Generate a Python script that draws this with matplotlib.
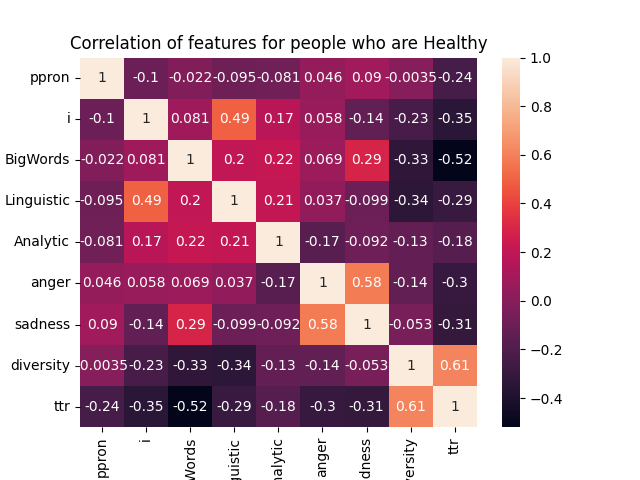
import numpy as np
import pandas as pd
import matplotlib
matplotlib.use("Agg")
import matplotlib.pyplot as plt
import seaborn as sns

features = ["ppron", "i", "BigWords", "Linguistic", "Analytic", "anger", "sadness", "diversity", "ttr"]
corr_values = [
    [1, -0.1, -0.022, -0.095, -0.081, 0.046, 0.09, -0.0035, -0.24],
    [-0.1, 1, 0.081, 0.49, 0.17, 0.058, -0.14, -0.23, -0.35],
    [-0.022, 0.081, 1, 0.2, 0.22, 0.069, 0.29, -0.33, -0.52],
    [-0.095, 0.49, 0.2, 1, 0.21, 0.037, -0.099, -0.34, -0.29],
    [-0.081, 0.17, 0.22, 0.21, 1, -0.17, -0.092, -0.13, -0.18],
    [0.046, 0.058, 0.069, 0.037, -0.17, 1, 0.58, -0.14, -0.3],
    [0.09, -0.14, 0.29, -0.099, -0.092, 0.58, 1, -0.053, -0.31],
    [-0.0035, -0.23, -0.33, -0.34, -0.13, -0.14, -0.053, 1, 0.61],
    [-0.24, -0.35, -0.52, -0.29, -0.18, -0.3, -0.31, 0.61, 1],
]

corr = pd.DataFrame(np.array(corr_values), index=features, columns=features)

fig = plt.figure(figsize=(6.4, 4.8))
ax = sns.heatmap(corr, annot=True)
ax.set_title("Correlation of features for people who are Healthy")
plt.savefig("out.png", dpi=100)
